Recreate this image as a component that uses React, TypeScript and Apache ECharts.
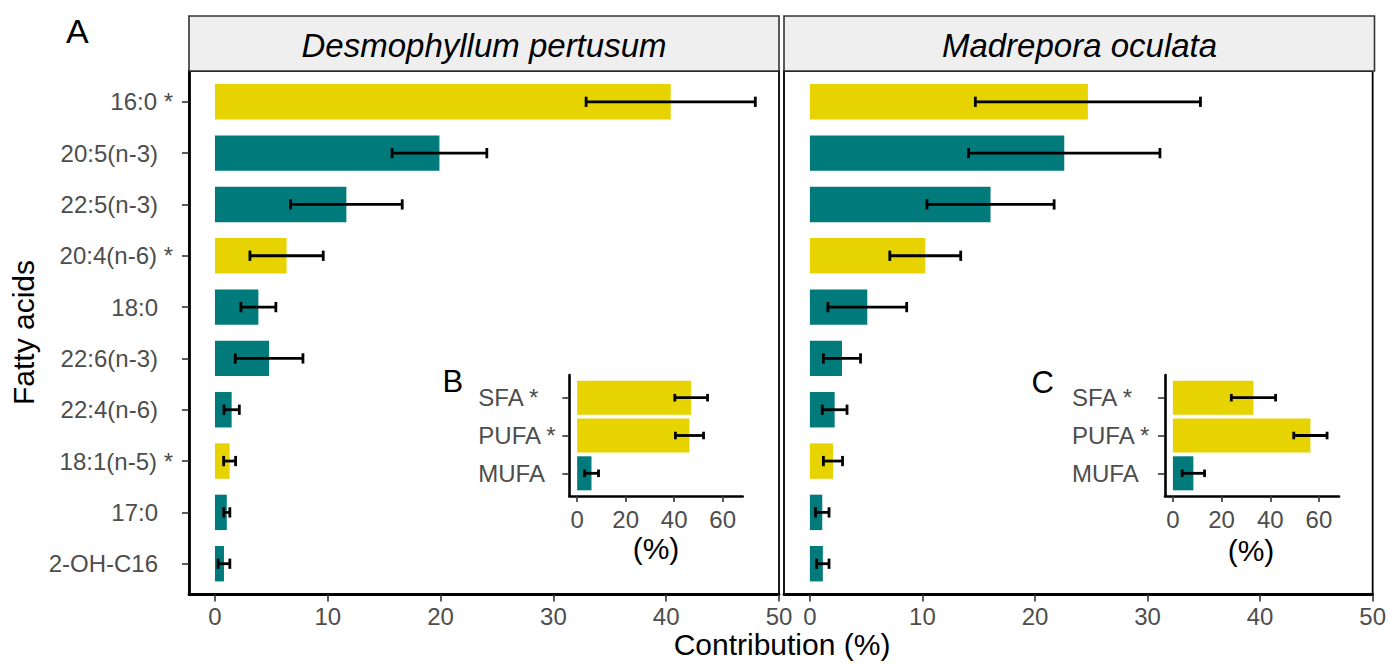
import React, { useEffect, useRef } from 'react';
import * as echarts from 'echarts';

// ---------- data ----------
const fattyAcids = ['16:0 *', '20:5(n-3)', '22:5(n-3)', '20:4(n-6) *', '18:0', '22:6(n-3)', '22:4(n-6)', '18:1(n-5) *', '17:0', '2-OH-C16'];
const faSignificant = [true, false, false, true, false, false, false, true, false, false];
const desmoMean = [40.4, 19.9, 11.65, 6.35, 3.85, 4.8, 1.48, 1.3, 1.05, 0.8];
const desmoSd = [7.5, 4.2, 4.95, 3.25, 1.55, 3.0, 0.68, 0.53, 0.27, 0.52];
const madreMean = [24.7, 22.6, 16.05, 10.25, 5.1, 2.85, 2.2, 2.05, 1.1, 1.15];
const madreSd = [10.0, 8.5, 5.65, 3.15, 3.5, 1.65, 1.1, 0.85, 0.6, 0.55];

const faClasses = ['SFA *', 'PUFA *', 'MUFA'];
const classSignificant = [true, true, false];
const desmoClassMean = [47.0, 46.3, 5.9];
const desmoClassSd = [6.75, 5.8, 2.9];
const madreClassMean = [33.1, 56.5, 8.4];
const madreClassSd = [9.1, 6.85, 4.6];

const mainTicks = [0, 10, 20, 30, 40, 50];
const insetTicks = [0, 20, 40, 60];
const panelTitles = ['Desmophyllum pertusum', 'Madrepora oculata'];
const panelLetters = ['A', 'B', 'C'];
const xTitle = 'Contribution (%)';
const yTitle = 'Fatty acids';
const insetTitle = '(%)';

// ---------- style ----------
const YELLOW = '#E6D300';
const TEAL = '#007A7A';
const FONT = '"Liberation Sans", Arial, Helvetica, sans-serif';
const GREY = '#4D4D4D';

const seq = (n: number) => Array.from({ length: n }, (_, i) => i + 1);

function barSeries(gi: number, means: number[], sig: boolean[], widthUnits: number) {
  return {
    type: 'custom',
    xAxisIndex: gi,
    yAxisIndex: gi,
    data: means.map((m, i) => [m, i + 1]),
    encode: { x: 0, y: 1 },
    z: 2,
    renderItem: (params: any, api: any) => {
      const v = api.value(0);
      const c = api.value(1);
      const p0 = api.coord([0, c]);
      const p1 = api.coord([v, c]);
      const h = Math.abs(api.size([0, widthUnits])[1]);
      return {
        type: 'rect',
        shape: { x: p0[0], y: p0[1] - h / 2, width: p1[0] - p0[0], height: h },
        style: { fill: sig[params.dataIndex] ? YELLOW : TEAL },
      };
    },
  };
}

function errSeries(gi: number, means: number[], sds: number[], capUnits: number) {
  return {
    type: 'custom',
    xAxisIndex: gi,
    yAxisIndex: gi,
    data: means.map((m, i) => [m - sds[i], m + sds[i], i + 1]),
    encode: { x: [0, 1], y: 2 },
    z: 3,
    renderItem: (params: any, api: any) => {
      const c = api.value(2);
      const lo = api.coord([api.value(0), c]);
      const hi = api.coord([api.value(1), c]);
      const cap = Math.abs(api.size([0, capUnits])[1]);
      const st = { stroke: '#000', lineWidth: 2.8 };
      return {
        type: 'group',
        children: [
          { type: 'line', shape: { x1: lo[0], y1: lo[1], x2: hi[0], y2: hi[1] }, style: st },
          { type: 'line', shape: { x1: lo[0], y1: lo[1] - cap / 2, x2: lo[0], y2: lo[1] + cap / 2 }, style: st },
          { type: 'line', shape: { x1: hi[0], y1: hi[1] - cap / 2, x2: hi[0], y2: hi[1] + cap / 2 }, style: st },
        ],
      };
    },
  };
}

function mainXAxis(gi: number) {
  return {
    type: 'value',
    gridIndex: gi,
    min: -2.3,
    max: 50,
    splitLine: { show: false },
    axisLine: { show: true, onZero: false, lineStyle: { color: '#000', width: 2.8 } },
    axisTick: { show: true, length: 7, customValues: mainTicks, lineStyle: { color: '#333', width: 1.6 } },
    axisLabel: { customValues: mainTicks, margin: 10, fontSize: 24, color: GREY, fontFamily: FONT },
  };
}

function insetXAxis(gi: number) {
  return {
    type: 'value',
    gridIndex: gi,
    min: -3.25,
    max: 68.25,
    splitLine: { show: false },
    axisLine: { show: true, onZero: false, lineStyle: { color: '#000', width: 2.6 } },
    axisTick: { show: true, length: 6, customValues: insetTicks, lineStyle: { color: '#333', width: 1.6 } },
    axisLabel: { customValues: insetTicks, margin: 11, fontSize: 24, color: GREY, fontFamily: FONT },
  };
}

function insetYAxis(gi: number, margin: number) {
  const vals = seq(faClasses.length);
  return {
    type: 'value',
    gridIndex: gi,
    min: 0.4,
    max: faClasses.length + 0.6,
    inverse: true,
    splitLine: { show: false },
    axisLine: { show: true, onZero: false, lineStyle: { color: '#000', width: 2.6 } },
    axisTick: { show: true, length: 7, customValues: vals, lineStyle: { color: '#333', width: 1.6 } },
    axisLabel: {
      customValues: vals,
      margin,
      formatter: (v: number) => `{l|${faClasses[Math.round(v) - 1] ?? ''}}`,
      rich: { l: { width: 80, align: 'left', fontSize: 24, color: GREY, fontFamily: FONT } },
    },
  };
}

export default function App() {
  const ref = useRef<HTMLDivElement>(null);

  useEffect(() => {
    if (!ref.current) return;
    const chart = echarts.init(ref.current, undefined, { renderer: 'svg' });
    const faVals = seq(fattyAcids.length);

    const option: any = {
      animation: false,
      backgroundColor: '#fff',
      grid: [
        { left: 189, top: 71, width: 590, height: 523.5, show: true, borderColor: '#000', borderWidth: 1.8, backgroundColor: 'transparent' },
        { left: 784, top: 71, width: 590.5, height: 523.5, show: true, borderColor: '#000', borderWidth: 1.8, backgroundColor: 'transparent' },
        { left: 569.3, top: 375, width: 173.4, height: 121 },
        { left: 1165, top: 375, width: 174, height: 121 },
      ],
      xAxis: [mainXAxis(0), mainXAxis(1), insetXAxis(2), insetXAxis(3)],
      yAxis: [
        {
          type: 'value',
          gridIndex: 0,
          min: 0.4,
          max: fattyAcids.length + 0.6,
          inverse: true,
          splitLine: { show: false },
          axisLine: { show: true, onZero: false, lineStyle: { color: '#000', width: 2.8 } },
          axisTick: { show: true, length: 7, customValues: faVals, lineStyle: { color: '#333', width: 1.6 } },
          axisLabel: {
            customValues: faVals,
            margin: 16,
            formatter: (v: number) => {
              const i = Math.round(v) - 1;
              const name = fattyAcids[i] ?? '';
              return name.endsWith('*') ? `{s|${name}}` : `{p|${name}}`;
            },
            rich: {
              s: { fontSize: 24, color: GREY, fontFamily: FONT },
              p: { fontSize: 24, color: GREY, fontFamily: FONT, padding: [0, 15, 0, 0] },
            },
          },
        },
        {
          type: 'value',
          gridIndex: 1,
          min: 0.4,
          max: fattyAcids.length + 0.6,
          inverse: true,
          splitLine: { show: false },
          axisLine: { show: false, onZero: false },
          axisTick: { show: false },
          axisLabel: { show: false },
        },
        insetYAxis(2, 11),
        insetYAxis(3, 13),
      ],
      series: [
        barSeries(0, desmoMean, faSignificant, 0.69),
        errSeries(0, desmoMean, desmoSd, 0.2),
        barSeries(1, madreMean, faSignificant, 0.69),
        errSeries(1, madreMean, madreSd, 0.2),
        barSeries(2, desmoClassMean, classSignificant, 0.9),
        errSeries(2, desmoClassMean, desmoClassSd, 0.2),
        barSeries(3, madreClassMean, classSignificant, 0.9),
        errSeries(3, madreClassMean, madreClassSd, 0.2),
      ],
      graphic: [
        { type: 'rect', shape: { x: 189, y: 16, width: 590, height: 55 }, style: { fill: '#EFEFEF', stroke: '#333', lineWidth: 1.6 }, z: 1 },
        { type: 'rect', shape: { x: 784, y: 16, width: 590.5, height: 55 }, style: { fill: '#EFEFEF', stroke: '#333', lineWidth: 1.6 }, z: 1 },
        { type: 'text', x: 484, y: 45.3, style: { text: panelTitles[0], fontSize: 33, fontStyle: 'italic', fontFamily: FONT, fill: '#000', align: 'center', verticalAlign: 'middle' }, z: 5 },
        { type: 'text', x: 1079.5, y: 45.3, style: { text: panelTitles[1], fontSize: 33, fontStyle: 'italic', fontFamily: FONT, fill: '#000', align: 'center', verticalAlign: 'middle' }, z: 5 },
        { type: 'text', x: 782, y: 644, style: { text: xTitle, fontSize: 30, fontFamily: FONT, fill: '#000', align: 'center', verticalAlign: 'middle' }, z: 5 },
        { type: 'text', x: 23, y: 332.5, rotation: Math.PI / 2, style: { text: yTitle, fontSize: 30, fontFamily: FONT, fill: '#000', align: 'center', verticalAlign: 'middle' }, z: 5 },
        { type: 'text', x: 66, y: 31, style: { text: panelLetters[0], fontSize: 34, fontFamily: FONT, fill: '#000', align: 'left', verticalAlign: 'middle' }, z: 5 },
        { type: 'text', x: 442.5, y: 381, style: { text: panelLetters[1], fontSize: 31, fontFamily: FONT, fill: '#000', align: 'left', verticalAlign: 'middle' }, z: 5 },
        { type: 'text', x: 1031.5, y: 382, style: { text: panelLetters[2], fontSize: 31, fontFamily: FONT, fill: '#000', align: 'left', verticalAlign: 'middle' }, z: 5 },
        { type: 'text', x: 656, y: 548, style: { text: insetTitle, fontSize: 30, fontFamily: FONT, fill: '#000', align: 'center', verticalAlign: 'middle' }, z: 5 },
        { type: 'text', x: 1251, y: 550, style: { text: insetTitle, fontSize: 30, fontFamily: FONT, fill: '#000', align: 'center', verticalAlign: 'middle' }, z: 5 },
      ],
    };

    chart.setOption(option);
    return () => {
      chart.dispose();
    };
  }, []);

  return (
    <div
      ref={ref}
      style={{ position: 'fixed', left: 0, top: 0, width: 1389, height: 666, background: '#fff' }}
    />
  );
}
